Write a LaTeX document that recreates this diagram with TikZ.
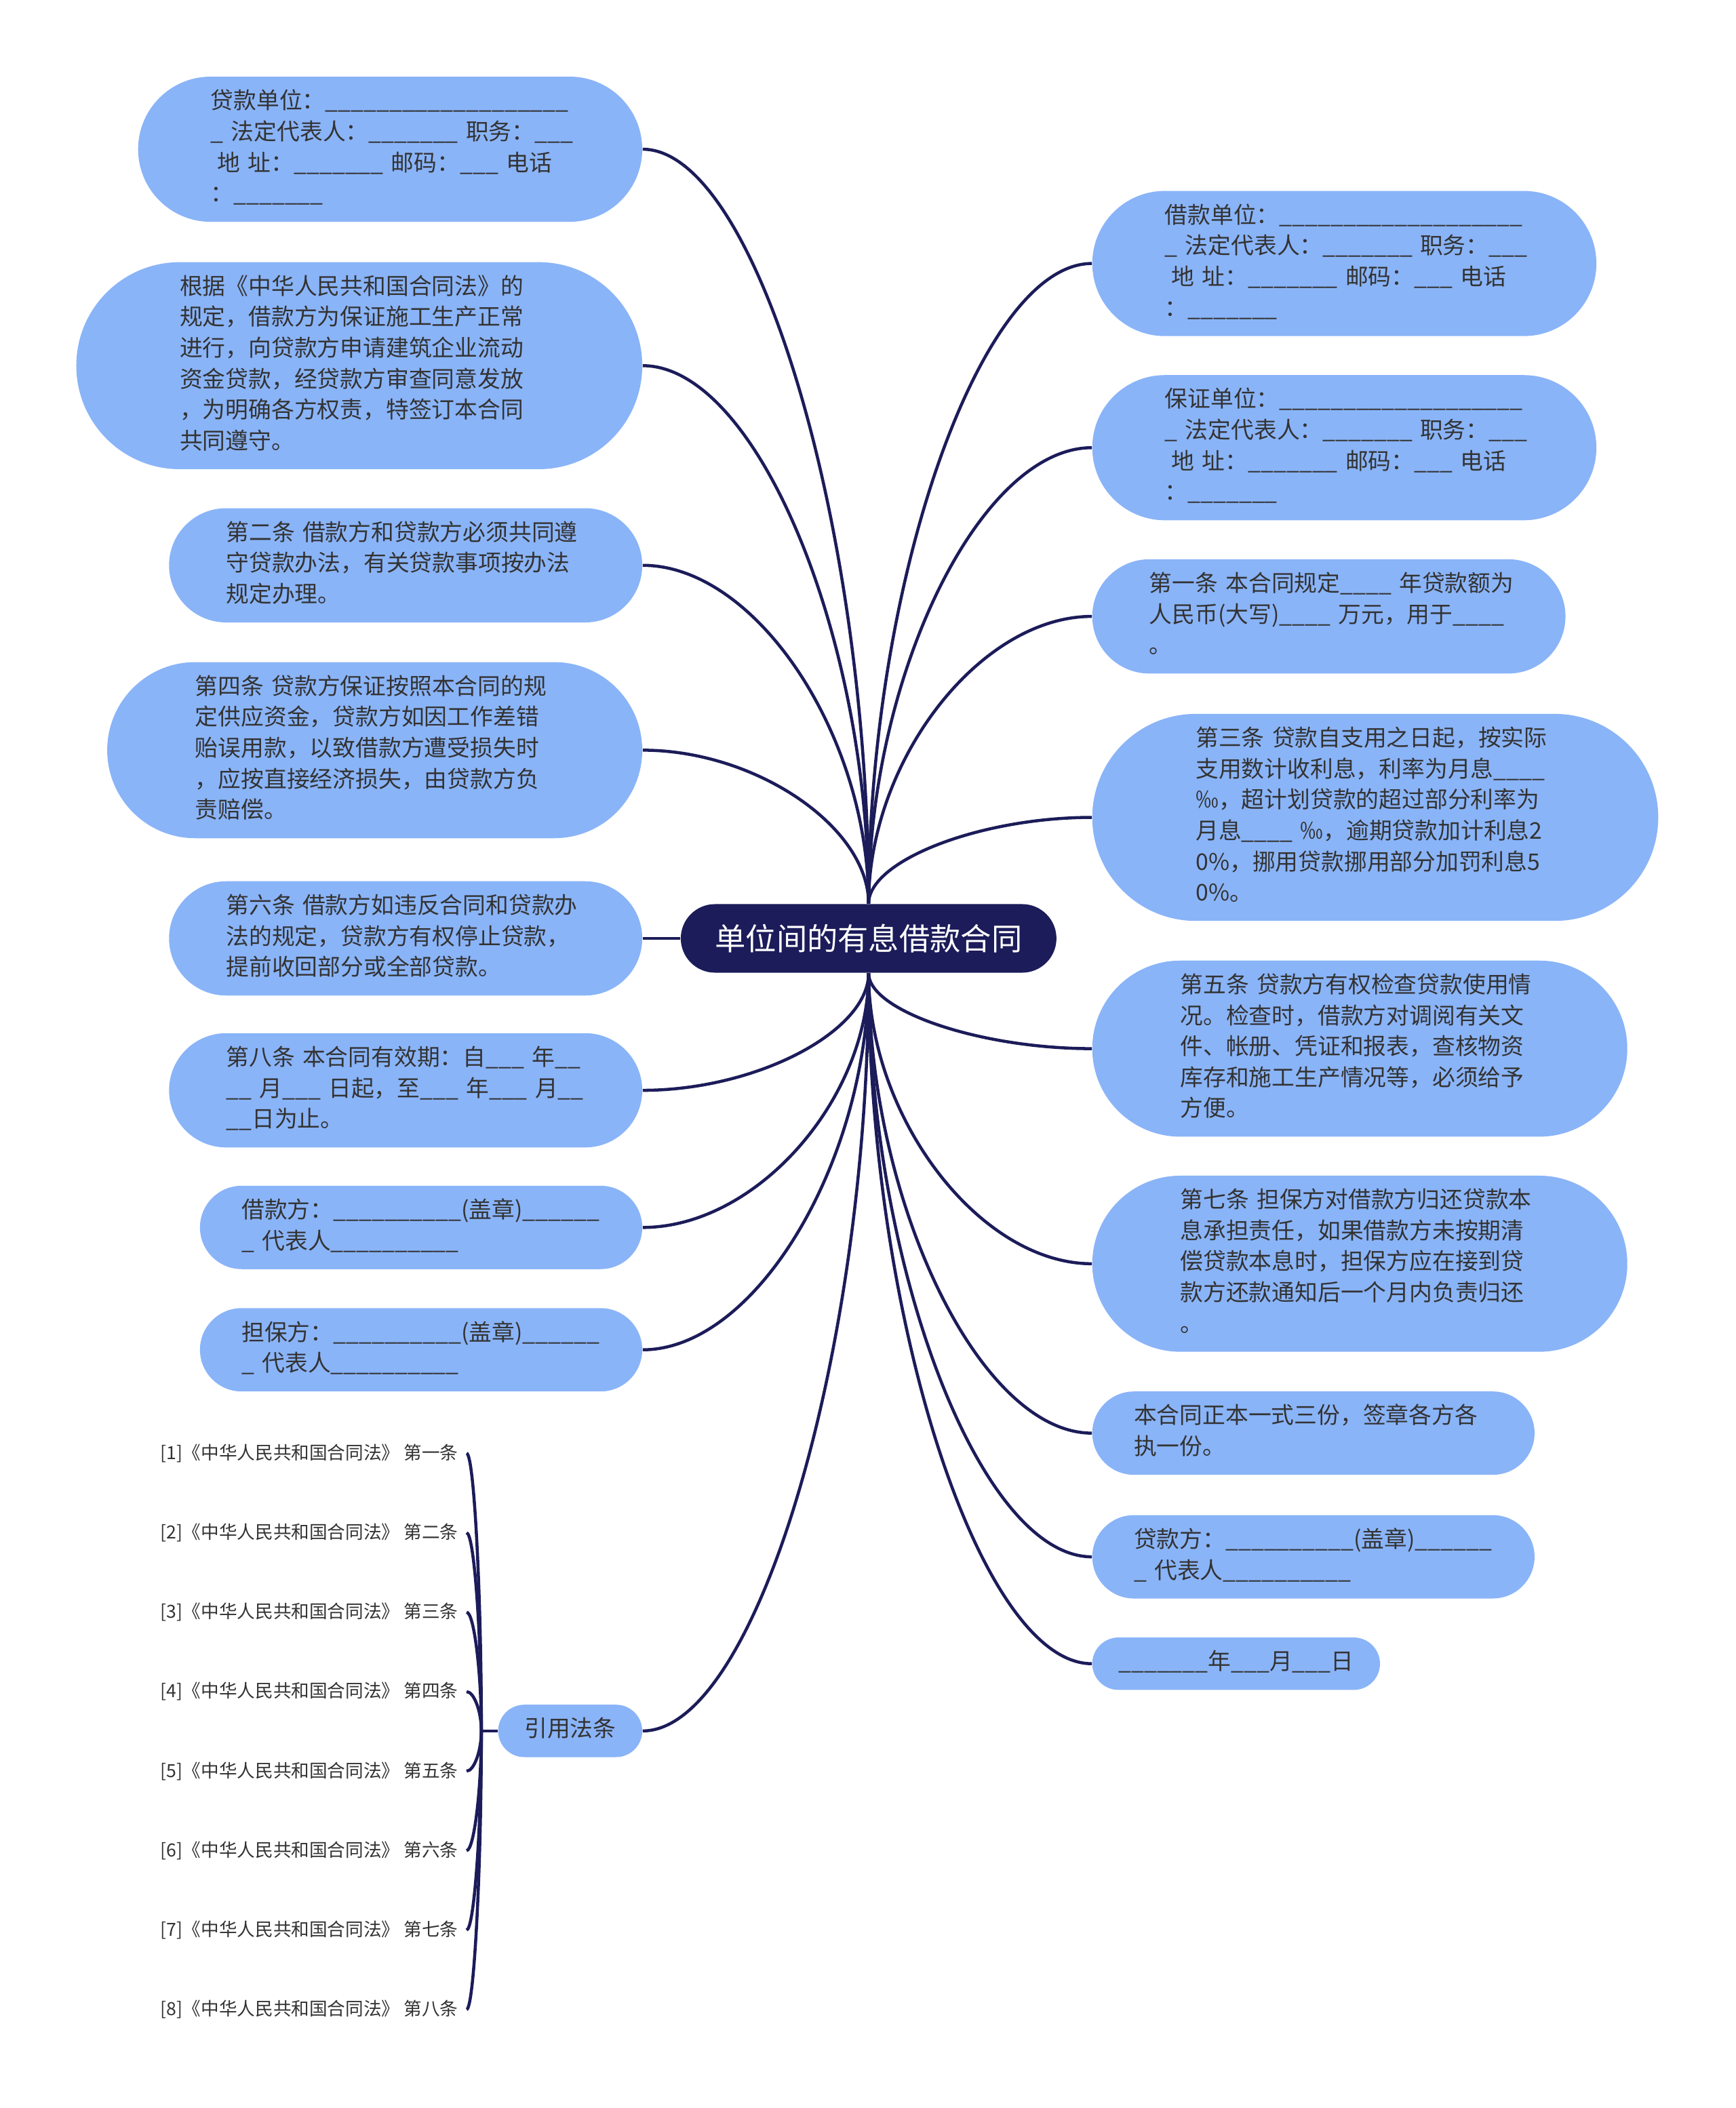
\documentclass[tikz,border=0pt]{standalone}
\usepackage{fontspec}
\setmainfont{Noto Sans CJK SC}
\usetikzlibrary{calc}

\definecolor{navy}{HTML}{1C1C5A}
\definecolor{pale}{HTML}{8AB4F8}
\definecolor{ink}{HTML}{333333}

\tikzset{
  main/.style={rectangle,fill=navy,text=white,inner xsep=.51cm,inner ysep=0pt,
    rounded corners=.51cm,minimum height=1.02cm,font=\fontsize{13pt}{16pt}\selectfont},
  box/.style={rectangle,fill=pale,text=ink,inner ysep=2pt,
    inner xsep=#1,rounded corners=#1,minimum height=2*#1,
    align=left,font=\fontsize{9.7pt}{13.1pt}\selectfont,
    execute at begin node=\strut,execute at end node=\strut},
  topic/.style={box=#1,text width=5.34cm},
  link/.style={draw=navy,line width=1.3pt,
    to path={.. controls ($(\tikztostart)!.5!(\tikztostart|-\tikztotarget)$)
      and ($(\tikztotarget)!.5!(\tikztotarget-|\tikztostart)$) .. (\tikztotarget)}},
  cite/.style={text=ink,font=\fontsize{7.65pt}{10pt}\selectfont,anchor=east,inner xsep=3.4pt}
}

\begin{document}
\begin{tikzpicture}[x=0.02cm,y=-0.02cm]
  \useasboundingbox (0,0) rectangle (1291,1568);

  \node[main] (root) at (646,698) {单位间的有息借款合同};

  % left side
  \node[topic=1.08cm,anchor=east] (dkdw) at (478,111) {贷款单位：\_\_\_\_\_\_\_\_\_\_\_\_\_\_\_\_\_\_\_\\
    \_~法定代表人：\_\_\_\_\_\_\_~职务：\_\_\_\\
    \hspace*{.3em}地~址：\_\_\_\_\_\_\_~邮码：\_\_\_~电话\\
    ：\_\_\_\_\_\_\_};
  \node[topic=1.54cm,anchor=east] (gj) at (478,272) {根据《中华人民共和国合同法》的\\
    规定，借款方为保证施工生产正常\\
    进行，向贷款方申请建筑企业流动\\
    资金贷款，经贷款方审查同意发放\\
    ，为明确各方权责，特签订本合同\\
    共同遵守。};
  \node[topic=.85cm,anchor=east] (t2) at (478,420.5) {第二条~借款方和贷款方必须共同遵\\
    守贷款办法，有关贷款事项按办法\\
    规定办理。};
  \node[topic=1.31cm,anchor=east] (t4) at (478,558) {第四条~贷款方保证按照本合同的规\\
    定供应资金，贷款方如因工作差错\\
    贻误用款，以致借款方遭受损失时\\
    ，应按直接经济损失，由贷款方负\\
    责赔偿。};
  \node[topic=.85cm,anchor=east] (t6) at (478,698) {第六条~借款方如违反合同和贷款办\\
    法的规定，贷款方有权停止贷款，\\
    提前收回部分或全部贷款。};
  \node[topic=.85cm,anchor=east] (t8) at (478,811) {第八条~本合同有效期：自\_\_\_~年\_\_\\
    \_\_~月\_\_\_~日起，至\_\_\_~年\_\_\_~月\_\_\\
    \_\_日为止。};
  \node[topic=.62cm,anchor=east] (jkf) at (478,913) {借款方：\_\_\_\_\_\_\_\_\_\_(盖章)\_\_\_\_\_\_\\
    \_~代表人\_\_\_\_\_\_\_\_\_\_};
  \node[topic=.62cm,anchor=east] (dbf) at (478,1004) {担保方：\_\_\_\_\_\_\_\_\_\_(盖章)\_\_\_\_\_\_\\
    \_~代表人\_\_\_\_\_\_\_\_\_\_};
  \node[box=.39cm,anchor=east] (yy) at (478,1287.5) {引用法条};

  % right side
  \node[topic=1.08cm,anchor=west] (jkdw) at (812,196) {借款单位：\_\_\_\_\_\_\_\_\_\_\_\_\_\_\_\_\_\_\_\\
    \_~法定代表人：\_\_\_\_\_\_\_~职务：\_\_\_\\
    \hspace*{.3em}地~址：\_\_\_\_\_\_\_~邮码：\_\_\_~电话\\
    ：\_\_\_\_\_\_\_};
  \node[topic=1.08cm,anchor=west] (bzdw) at (812,333) {保证单位：\_\_\_\_\_\_\_\_\_\_\_\_\_\_\_\_\_\_\_\\
    \_~法定代表人：\_\_\_\_\_\_\_~职务：\_\_\_\\
    \hspace*{.3em}地~址：\_\_\_\_\_\_\_~邮码：\_\_\_~电话\\
    ：\_\_\_\_\_\_\_};
  \node[topic=.85cm,anchor=west] (t1) at (812,458.5) {第一条~本合同规定\_\_\_\_~年贷款额为\\
    人民币(大写)\_\_\_\_~万元，用于\_\_\_\_\\
    。};
  \node[topic=1.54cm,anchor=west] (t3) at (812,608) {第三条~贷款自支用之日起，按实际\\
    支用数计收利息，利率为月息\_\_\_\_\\
    ‰，超计划贷款的超过部分利率为\\
    月息\_\_\_\_~‰，逾期贷款加计利息2\\
    0\%，挪用贷款挪用部分加罚利息5\\
    0\%。};
  \node[topic=1.31cm,anchor=west] (t5) at (812,780) {第五条~贷款方有权检查贷款使用情\\
    况。检查时，借款方对调阅有关文\\
    件、帐册、凭证和报表，查核物资\\
    库存和施工生产情况等，必须给予\\
    方便。};
  \node[topic=1.31cm,anchor=west] (t7) at (812,940) {第七条~担保方对借款方归还贷款本\\
    息承担责任，如果借款方未按期清\\
    偿贷款本息时，担保方应在接到贷\\
    款方还款通知后一个月内负责归还\\
    。};
  \node[topic=.62cm,anchor=west] (fb) at (812,1066) {本合同正本一式三份，签章各方各\\
    执一份。};
  \node[topic=.62cm,anchor=west] (dkf) at (812,1158) {贷款方：\_\_\_\_\_\_\_\_\_\_(盖章)\_\_\_\_\_\_\\
    \_~代表人\_\_\_\_\_\_\_\_\_\_};
  \node[box=.39cm,anchor=west] (rq) at (812,1237.5) {\_\_\_\_\_\_\_年\_\_\_月\_\_\_日};

  % branches
  \foreach \n in {dkdw,gj,t2,t4}
    \draw[link] (root.north) to (\n.east);
  \draw[link] (root.west) -- (t6.east);
  \foreach \n in {t8,jkf,dbf,yy}
    \draw[link] (root.south) to (\n.east);
  \foreach \n in {jkdw,bzdw,t1,t3}
    \draw[link] (root.north) to (\n.west);
  \foreach \n in {t5,t7,fb,dkf,rq}
    \draw[link] (root.south) to (\n.west);

  % cited articles
  \coordinate (hub) at (358,1287.5);
  \draw[link] (yy.west) -- (hub);
  \foreach \i/\k in {1/一,2/二,3/三,4/四,5/五,6/六,7/七,8/八} {
    \node[cite] (c\i) at (347,{1081+59.1*(\i-1)}) {[\i]《中华人民共和国合同法》~第\k 条};
    \draw[link] (hub) to (c\i.east);
  }
\end{tikzpicture}
\end{document}
